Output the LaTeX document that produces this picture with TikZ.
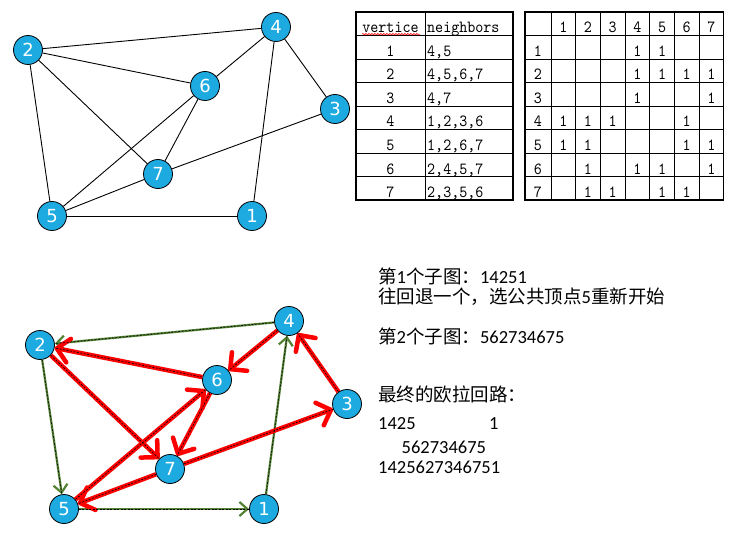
\documentclass[tikz,border=0pt]{standalone}
\usepackage{fontspec}
\setmainfont{Carlito}
\newfontfamily\cjk{Noto Sans CJK SC}
\newfontfamily\vtxfont{DejaVu Sans}
\newfontfamily\tabfont[FakeStretch=0.9]{lmmono10-regular.otf}
\usetikzlibrary{arrows.meta,decorations.pathmorphing}
\definecolor{nodeblue}{RGB}{29,170,225}
\definecolor{pathgreen}{RGB}{84,130,53}
\definecolor{pathred}{RGB}{255,0,0}
\begin{document}
\begin{tikzpicture}[x=1pt,y=-1pt,
 vtx/.style={circle,draw=black,line width=0.8pt,fill=nodeblue,minimum size=29pt,inner sep=0pt,text=white,font=\vtxfont\fontsize{18}{18}\selectfont},
 plainedge/.style={line width=0.9pt,black},
 greenarc/.style={line width=2.2pt,pathgreen,-{Straight Barb[length=8pt,width=14pt]}},
 redarc/.style={line width=4.5pt,pathred,-{Straight Barb[length=12pt,width=24pt,round]}},
 dashover/.style={line width=0.6pt,black,dash pattern=on 2pt off 1.5pt},
 cell/.style={font=\tabfont\fontsize{17}{18}\selectfont,inner sep=0pt,anchor=base},
 tabline/.style={line width=0.9pt,black},
 tabouter/.style={line width=1.4pt,black},
 note/.style={font=\fontsize{18.5}{22}\selectfont,inner sep=0pt,anchor=base west}
]
\useasboundingbox (0,0) rectangle (735,540);

% ---------- top graph ----------
\node[vtx] (t1) at (252,216) {1};
\node[vtx] (t2) at (28,50) {2};
\node[vtx] (t3) at (335,109) {3};
\node[vtx] (t4) at (276,27) {4};
\node[vtx] (t5) at (52,216) {5};
\node[vtx] (t6) at (205,86) {6};
\node[vtx] (t7) at (158,174) {7};
\foreach \a/\b in {t2/t4,t2/t6,t2/t7,t2/t5,t4/t6,t4/t3,t4/t1,t6/t5,t6/t7,t3/t7,t7/t5,t5/t1}
  \draw[plainedge] (\a) -- (\b);

% ---------- bottom graph ----------
\node[vtx] (b1) at (264,509) {1};
\node[vtx] (b2) at (40,345) {2};
\node[vtx] (b3) at (347,404) {3};
\node[vtx] (b4) at (289,321) {4};
\node[vtx] (b5) at (64,509) {5};
\node[vtx] (b6) at (217,380) {6};
\node[vtx] (b7) at (170,469) {7};
\foreach \a/\b in {b4/b2,b2/b5,b5/b1,b1/b4}
  \draw[greenarc] (\a) -- (\b);
\foreach \a/\b in {b5/b6,b6/b2,b2/b7,b7/b3,b3/b4,b4/b6,b6/b7,b7/b5}
  \draw[redarc] (\a) -- (\b);
\foreach \a/\b in {b4/b2,b2/b5,b5/b1,b1/b4,b5/b6,b6/b2,b2/b7,b7/b3,b3/b4,b4/b6,b6/b7,b7/b5}
  \draw[dashover] (\a) -- (\b);

% ---------- adjacency list table ----------
\foreach \k in {0,...,8}
  \draw[tabline] (356,{12+23.5*\k}) -- (513,{12+23.5*\k});
\foreach \x in {356,425,513}
  \draw[tabline] (\x,12) -- (\x,200);
\draw[tabouter] (356,12) rectangle (513,200);
\node[cell] (lh1) at (390.5,32.5) {vertice};
\node[cell,anchor=base west] (lh2) at (427,32.5) {neighbors};
\draw[red,line width=0.6pt,decorate,decoration={snake,amplitude=0.8pt,segment length=3pt}] (362,34.2) -- (420,34.2);
\node[cell] (lv1) at (390.5,56.5) {1};
\node[cell,anchor=base west] (ln1) at (427,56.5) {4,5};
\node[cell] (lv2) at (390.5,80) {2};
\node[cell,anchor=base west] (ln2) at (427,80) {4,5,6,7};
\node[cell] (lv3) at (390.5,103.5) {3};
\node[cell,anchor=base west] (ln3) at (427,103.5) {4,7};
\node[cell] (lv4) at (390.5,127) {4};
\node[cell,anchor=base west] (ln4) at (427,127) {1,2,3,6};
\node[cell] (lv5) at (390.5,150.5) {5};
\node[cell,anchor=base west] (ln5) at (427,150.5) {1,2,6,7};
\node[cell] (lv6) at (390.5,174) {6};
\node[cell,anchor=base west] (ln6) at (427,174) {2,4,5,7};
\node[cell] (lv7) at (390.5,197.5) {7};
\node[cell,anchor=base west] (ln7) at (427,197.5) {2,3,5,6};

% ---------- adjacency matrix ----------
\foreach \k in {0,...,8}
  \draw[tabline] (525,{12+23.5*\k}) -- (723.67,{12+23.5*\k});
\draw[tabline] (525,12) -- (525,200);
\foreach \j in {0,...,7}
  \draw[tabline] ({551+24.67*\j},12) -- ({551+24.67*\j},200);
\draw[tabouter] (525,12) rectangle (723.67,200);
\foreach \j in {1,...,7}
  \node[cell] (mh\j) at ({563.33+24.67*(\j-1)},33) {\j};
\foreach \i in {1,...,7}
  \node[cell] (mr\i) at (538,{33+23.5*\i}) {\i};
\foreach \i/\j in {1/4,1/5,2/4,2/5,2/6,2/7,3/4,3/7,4/1,4/2,4/3,4/6,5/1,5/2,5/6,5/7,6/2,6/4,6/5,6/7,7/2,7/3,7/5,7/6}
  \node[cell] (m\i\j) at ({563.33+24.67*(\j-1)},{33+23.5*\i}) {1};

% ---------- notes ----------
\node[note] (n1) at (378,283) {{\cjk 第}1{\cjk 个子图：}14251};
\node[note] (n2) at (378,303) {{\cjk 往回退一个，选公共顶点}5{\cjk 重新开始}};
\node[note] (n3) at (378,343) {{\cjk 第}2{\cjk 个子图：}562734675};
\node[note] (n4) at (378,401) {\cjk 最终的欧拉回路：};
\node[note] (n5) at (378,429) {1425};
\node[note] (n6) at (489,429) {1};
\node[note] (n7) at (401.5,453) {562734675};
\node[note] (n8) at (378,473) {1425627346751};
\end{tikzpicture}
\end{document}
